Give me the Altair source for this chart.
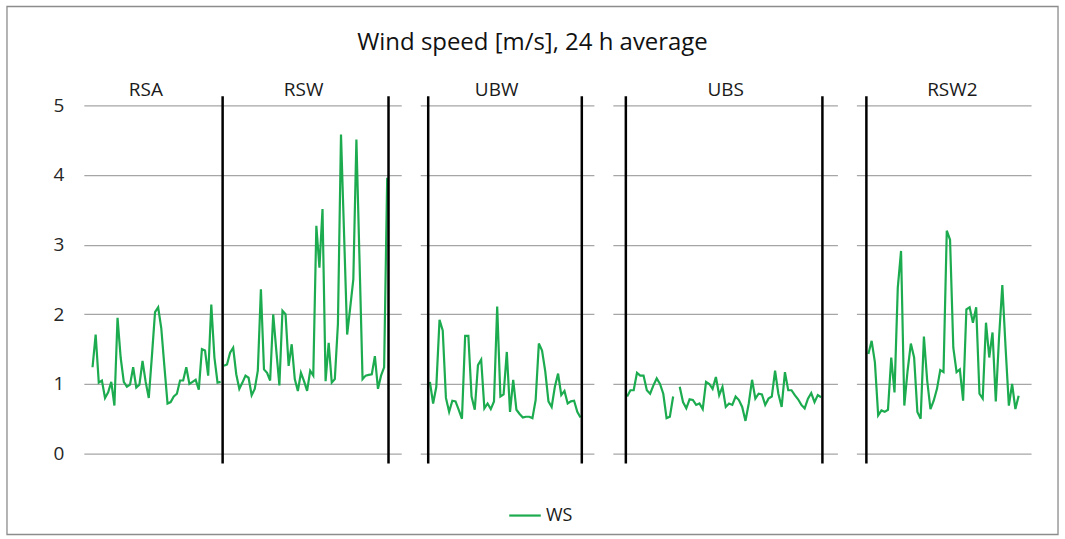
import altair as alt
import pandas as pd

TITLE = "Wind speed [m/s], 24 h average"
SERIES = "WS"
GREEN = "#1DAB50"

# Daily 24 h average wind speed [m/s] per campaign
RSA = [1.24, 1.71, 1.02, 1.05, 0.80, 0.88, 1.03, 0.69, 1.95, 1.38, 1.03, 0.96, 0.99, 1.24,
       0.95, 0.99, 1.33, 1.03, 0.80, 1.40, 2.03, 2.10, 1.80, 1.25, 0.72, 0.74, 0.82, 0.86,
       1.05, 1.05, 1.24, 1.00, 1.03, 1.06, 0.92, 1.50, 1.48, 1.12, 2.14, 1.38, 1.02, 1.03]
RSW = [1.26, 1.28, 1.45, 1.52, 1.14, 0.93, 1.02, 1.12, 1.09, 0.84, 0.93, 1.19, 2.36, 1.21,
       1.16, 1.05, 2.00, 1.48, 0.98, 2.05, 2.00, 1.26, 1.57, 1.07, 0.90, 1.16, 1.04, 0.90,
       1.19, 1.12, 3.27, 2.67, 3.51, 1.04, 1.59, 1.02, 1.07, 1.86, 4.58, 3.15, 1.71, 2.10,
       2.50, 4.51, 2.80, 1.07, 1.12, 1.13, 1.14, 1.40, 0.93, 1.12, 1.24, 3.96]
UBW = [1.03, 0.72, 0.96, 1.92, 1.77, 0.80, 0.60, 0.76, 0.75, 0.63, 0.50, 1.69, 1.69, 0.82,
       0.63, 1.27, 1.35, 0.65, 0.72, 0.64, 0.75, 2.11, 0.82, 0.85, 1.46, 0.60, 1.06, 0.63,
       0.57, 0.52, 0.53, 0.53, 0.51, 0.77, 1.58, 1.48, 1.18, 0.75, 0.67, 0.96, 1.15, 0.84,
       0.90, 0.72, 0.75, 0.76, 0.60, 0.52]
UBS = [0.82, 0.91, 0.91, 1.16, 1.12, 1.12, 0.91, 0.86, 0.98, 1.08, 1.00, 0.86, 0.51, 0.53,
       0.82, None,
       0.96, 0.74, 0.65, 0.78, 0.77, 0.70, 0.72, 0.64, 1.03, 1.00, 0.93, 1.10, 0.84, 0.96,
       0.67, 0.72, 0.70, 0.82, 0.77, 0.67, 0.47, 0.72, 1.06, 0.79, 0.86, 0.85, 0.70, 0.79,
       0.82, 1.19, 0.86, 0.67, 1.17, 0.91, 0.91, 0.84, 0.78, 0.70, 0.65, 0.79, 0.87, 0.74,
       0.84, 0.81]
RSW2 = [1.43, 1.62, 1.31, 0.55, 0.62, 0.60, 0.63, 1.38, 0.88, 2.38, 2.91, 0.69, 1.19, 1.58,
        1.38, 0.60, 0.50, 1.68, 1.05, 0.64, 0.76, 0.93, 1.20, 1.17, 3.20, 3.07, 1.52, 1.17,
        1.21, 0.76, 2.07, 2.10, 1.88, 2.10, 0.86, 0.79, 1.88, 1.38, 1.74, 0.75, 1.67, 2.42,
        1.52, 0.69, 1.00, 0.64, 0.83]

SECTIONS = ["RSA", "RSW", "UBW", "UBS", "RSW2"]
SECTION_VALUES = [RSA, RSW, UBW, UBS, RSW2]
SECTION_PANEL = [0, 0, 1, 2, 3]
SECTION_FIRST_DAY = [2.66, 42.9, 2.97, 4.37, 3.67]
SECTION_LAST_DAY = [41.9, 92.9, 49.1, 63.8, 49.7]
SECTION_LABEL_DAY = [19.0, 67.3, 23.4, 34.6, 29.4]

PANEL_DAYS = [97.2, 53.2, 68.8, 53.5]
PANEL_WIDTHS = [318, 174, 225, 175]
PANEL_HEIGHT = 349
DIVIDERS = [[42.5, 93.3], [2.45, 49.5], [3.98, 64.2], [3.06]]
DIVIDER_LOW, DIVIDER_HIGH = -0.14, 5.13
LABEL_Y = 5.22
Y_TICKS = [0, 1, 2, 3, 4, 5]

# ---- tables -------------------------------------------------------------
rows = []
for name, vals, p, a, b in zip(SECTIONS, SECTION_VALUES, SECTION_PANEL,
                               SECTION_FIRST_DAY, SECTION_LAST_DAY):
    n = len(vals)
    seg = 0
    for i, v in enumerate(vals):
        if v is None:
            seg += 1
            continue
        rows.append({"panel": p, "section": name, "seg": f"{name}{seg}",
                     "day": a + i * (b - a) / (n - 1), "ws": v, "series": SERIES})
line_df = pd.DataFrame(rows)

div_df = pd.DataFrame([{"panel": p, "day": d, "lo": DIVIDER_LOW, "hi": DIVIDER_HIGH}
                       for p, ds in enumerate(DIVIDERS) for d in ds])
lab_df = pd.DataFrame([{"panel": p, "day": d, "ypos": LABEL_Y, "name": n}
                       for n, p, d in zip(SECTIONS, SECTION_PANEL, SECTION_LABEL_DAY)])

FONT = "Open Sans"


def y_enc(field, p):
    return alt.Y(f"{field}:Q",
                 scale=alt.Scale(domain=[0, 5], nice=False, zero=False),
                 axis=alt.Axis(values=Y_TICKS, grid=True, labels=(p == 0), ticks=False,
                               domain=False, title=None, labelFontSize=19, labelFont=FONT,
                               labelColor="#262626", labelPadding=20,
                               gridColor="#A6A6A6", gridWidth=1.3))


def x_enc(p):
    return alt.X("day:Q", scale=alt.Scale(domain=[0, PANEL_DAYS[p]], nice=False, zero=False),
                 axis=None)


def panel(p):
    line = alt.Chart(line_df[line_df.panel == p]).mark_line(strokeWidth=2.2).encode(
        x=x_enc(p), y=y_enc("ws", p), detail="seg:N",
        color=alt.Color("series:N", scale=alt.Scale(domain=[SERIES], range=[GREEN]),
                        legend=alt.Legend(title=None, orient="none", legendX=425, legendY=394,
                                          symbolType="stroke", symbolSize=1000,
                                          symbolStrokeWidth=2.2, labelFontSize=18,
                                          labelFont=FONT, labelColor="#1A1A1A",
                                          labelOffset=4)))
    rules = alt.Chart(div_df[div_df.panel == p]).mark_rule(color="black", strokeWidth=2.5).encode(
        x=x_enc(p), y=y_enc("lo", p), y2="hi:Q")
    labels = alt.Chart(lab_df[lab_df.panel == p]).mark_text(
        fontSize=19, font=FONT, color="#1A1A1A", baseline="middle").encode(
        x=x_enc(p), y=y_enc("ypos", p), text="name:N")
    layers = [line, rules, labels]
    if p == 3:
        frame = alt.Chart(pd.DataFrame({"k": [0]})).mark_rect(
            filled=False, stroke="#8C8C8C", strokeWidth=1.3).encode(
            x=alt.value(-851), x2=alt.value(202), y=alt.value(-99), y2=alt.value(430))
        layers.append(frame)
    return alt.layer(*layers).properties(width=PANEL_WIDTHS[p], height=PANEL_HEIGHT)


chart = alt.hconcat(*[panel(p) for p in range(4)], spacing=19, bounds="flush").resolve_scale(
    color="shared").resolve_legend(color="shared").properties(
    title=alt.Title(TITLE, anchor="middle", fontSize=24, font=FONT, fontWeight="normal",
                    color="#111111", offset=-49),
    padding={"left": 6, "top": 5, "right": 6, "bottom": 5},
    background="white",
).configure_view(stroke=None)

chart.save("out.html", embed_options={"renderer": "svg", "actions": False})
